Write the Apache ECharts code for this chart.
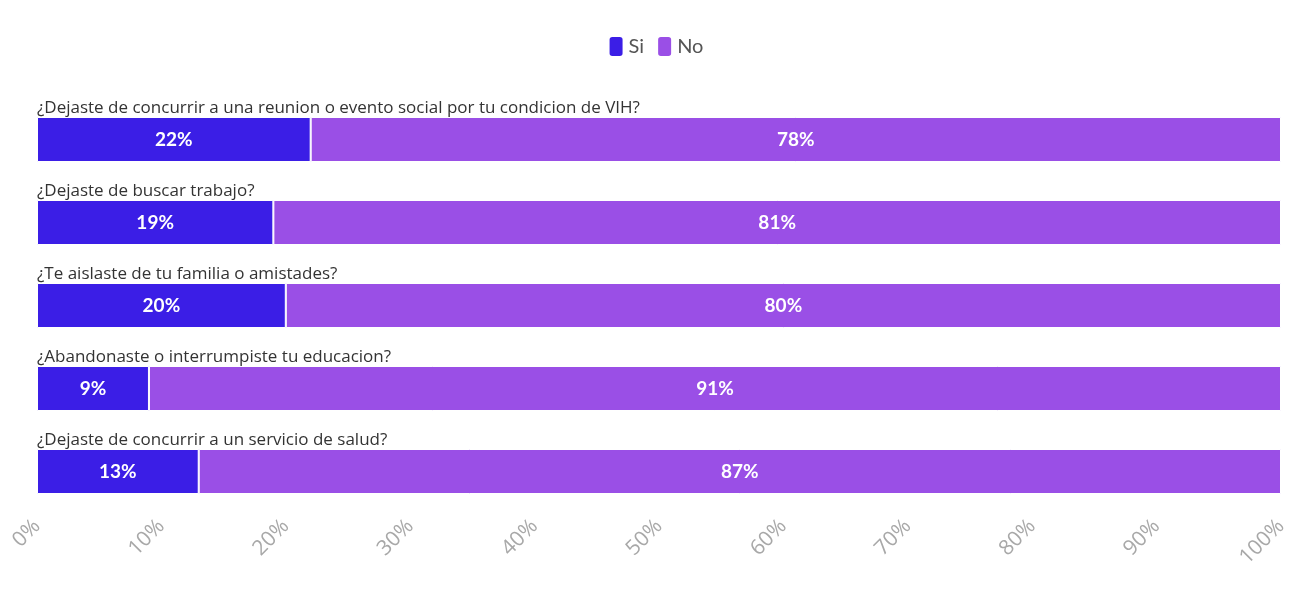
<!DOCTYPE html>
<html>
<head>
<meta charset="utf-8">
<script src="https://cdn.jsdelivr.net/npm/echarts@6/dist/echarts.min.js"></script>
<style>html,body{margin:0;padding:0;background:#fff;}#c{width:1311px;height:607px;}</style>
</head>
<body>
<div id="c"></div>
<script>
const categories = [
  "¿Dejaste de concurrir a una reunion o evento social por tu condicion de VIH?",
  "¿Dejaste de buscar trabajo?",
  "¿Te aislaste de tu familia o amistades?",
  "¿Abandonaste o interrumpiste tu educacion?",
  "¿Dejaste de concurrir a un servicio de salud?"
];
const siValues = [22, 19, 20, 9, 13];
const noValues = [78, 81, 80, 91, 87];
const xTicks = [0, 10, 20, 30, 40, 50, 60, 70, 80, 90, 100];

const chart = echarts.init(document.getElementById('c'));
const labelStyle = {
  show: true, position: 'inside', color: '#fff', fontSize: 19, fontWeight: 'bold',
  fontFamily: 'Lato, sans-serif', formatter: p => p.value + '%'
};
chart.setOption({
  animation: false,
  legend: {
    top: 30, left: 'center', itemWidth: 15, itemHeight: 21, itemGap: 12,
    icon: 'roundRect',
    textStyle: { fontSize: 20, color: '#555', fontFamily: 'Lato, sans-serif' },
    data: ['Si', 'No']
  },
  grid: { left: 37, right: 30, top: 98, bottom: 94 },
  xAxis: {
    type: 'value', min: 0, max: 100, interval: 10,
    axisLine: { show: false }, axisTick: { show: false }, splitLine: { show: false },
    axisLabel: {
      rotate: 45, color: '#a8a8a8', fontSize: 21, margin: 10,
      fontFamily: '"Open Sans", sans-serif', formatter: v => xTicks.includes(v) ? v + '%' : ''
    }
  },
  yAxis: {
    type: 'category', inverse: true, data: categories,
    axisLine: { show: false }, axisTick: { show: false },
    axisLabel: {
      inside: true, align: 'left', verticalAlign: 'bottom', margin: 0,
      padding: [0, 0, 23, 0], color: '#333', fontSize: 17,
      fontFamily: '"Open Sans", sans-serif'
    }
  },
  series: [
    {
      name: 'Si', type: 'bar', stack: 't', barWidth: 45, data: siValues,
      itemStyle: { color: '#3b1ee6', borderColor: '#fff', borderWidth: 1 },
      label: labelStyle
    },
    {
      name: 'No', type: 'bar', stack: 't', barWidth: 45, data: noValues,
      itemStyle: { color: '#9a4fe6', borderColor: '#fff', borderWidth: 1 },
      label: labelStyle
    }
  ]
});
</script>
</body>
</html>
